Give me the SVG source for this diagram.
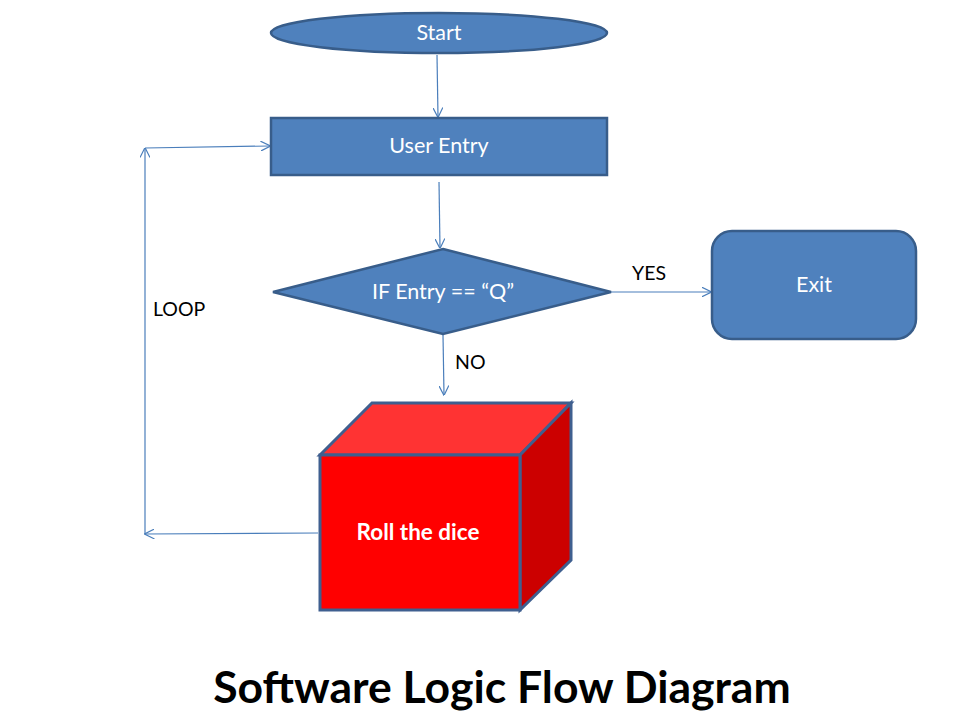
<svg xmlns="http://www.w3.org/2000/svg" width="960" height="720" viewBox="0 0 960 720">
<defs>
<style>
.node{fill:#4F81BD;stroke:#385D8A;stroke-width:2.5}
.wt{fill:#FFFFFF;font-family:Lato,"Open Sans","Liberation Sans",sans-serif;font-size:21.5px;text-anchor:middle}
.bt{fill:#000000;font-family:Lato,"Open Sans","Liberation Sans",sans-serif;font-size:19.5px;text-anchor:start}
.conn{fill:none;stroke:#4A7EBB;stroke-width:1.2;marker-end:url(#arr)}
.cube{stroke:#3F5F8F;stroke-width:3;stroke-linejoin:miter}
</style>
<marker id="arr" viewBox="0 0 10 10" refX="9.5" refY="5" markerWidth="10" markerHeight="10" markerUnits="userSpaceOnUse" orient="auto">
<path d="M0,0 L10,5 L0,10" fill="none" stroke="#4A7EBB" stroke-width="1.2"/>
</marker>
</defs>
<rect width="960" height="720" fill="#FFFFFF"/>
<g id="connectors">
<line class="conn" x1="437" y1="55" x2="438" y2="117"/>
<line class="conn" x1="439" y1="182" x2="440" y2="248"/>
<line class="conn" x1="611" y1="292" x2="711" y2="292"/>
<line class="conn" x1="443" y1="335" x2="444" y2="395"/>
<line class="conn" x1="318" y1="533" x2="145" y2="534"/>
<line class="conn" x1="145" y1="534" x2="145" y2="148"/>
<line class="conn" x1="145" y1="148" x2="270" y2="146"/>
<text class="bt" x="632" y="280">YES</text>
<text class="bt" x="455" y="369">NO</text>
<text class="bt" x="153" y="316">LOOP</text>
</g>
<g id="start">
<ellipse class="node" cx="439" cy="33" rx="168" ry="20"/>
<text class="wt" x="439" y="40">Start</text>
</g>
<g id="user-entry">
<rect class="node" x="271" y="118" width="336" height="57"/>
<text class="wt" x="439" y="153">User Entry</text>
</g>
<g id="decision">
<polygon class="node" points="443,249 611,292 443,334 273,292"/>
<text class="wt" x="443" y="299">IF Entry == “Q”</text>
</g>
<g id="exit">
<rect class="node" x="712" y="231" width="204" height="108" rx="20" ry="20"/>
<text class="wt" x="814" y="292">Exit</text>
</g>
<g id="roll">
<polygon class="cube" fill="#FF3333" points="320,455 372,403 571,403 520,455"/>
<polygon class="cube" fill="#CC0000" points="520,455 571,403 571,560 520,610"/>
<rect class="cube" fill="#FF0000" x="320" y="455" width="200" height="155"/>
<text x="418" y="540" fill="#FFFFFF" font-family="Lato,'Open Sans','Liberation Sans',sans-serif" font-size="22.5" font-weight="bold" text-anchor="middle">Roll the dice</text>
</g>
<text x="502" y="703" fill="#000000" font-family="Lato,'Open Sans','Liberation Sans',sans-serif" font-size="44.5" font-weight="bold" text-anchor="middle">Software Logic Flow Diagram</text>
</svg>
